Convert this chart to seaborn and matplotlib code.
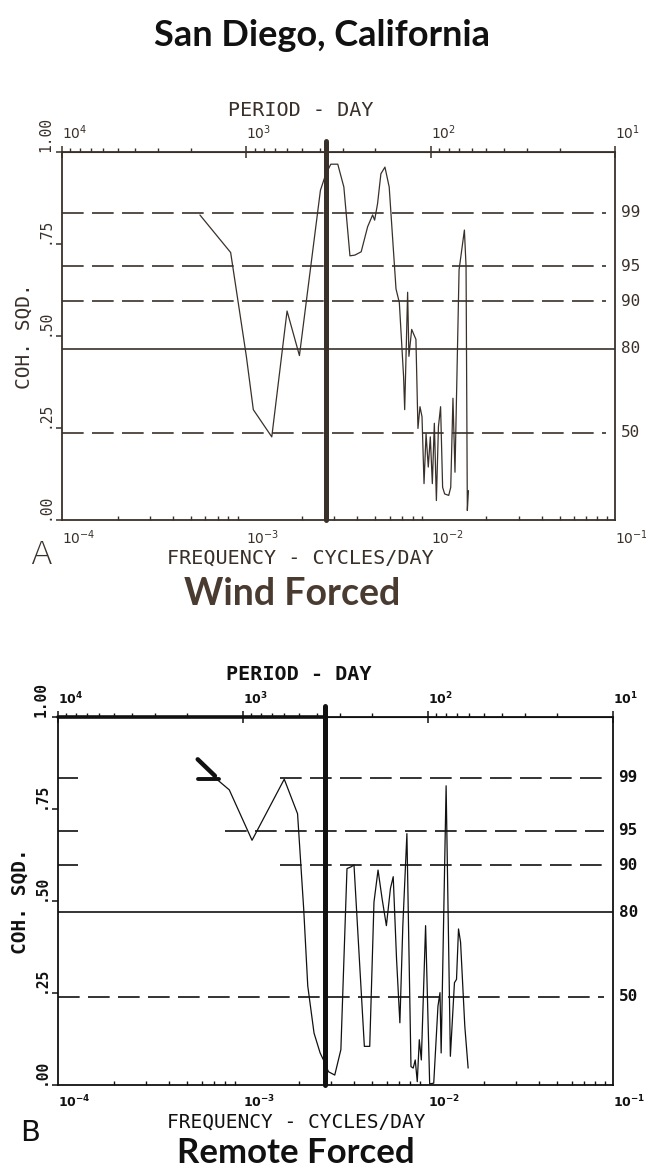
import numpy as np
import pandas as pd
import matplotlib
matplotlib.use("Agg")
import matplotlib.pyplot as plt
import matplotlib.ticker as mticker
import seaborn as sns

# Data (frequency in cycles/day, coherence squared)
wind_freq = [5.60e-4, 8.22e-4, 1.000e-3, 1.091e-3, 1.374e-3, 1.663e-3, 1.941e-3, 2.523e-3,
             2.685e-3, 2.871e-3, 3.133e-3, 3.381e-3, 3.648e-3, 3.882e-3, 4.198e-3, 4.550e-3,
             4.842e-3, 4.966e-3, 5.152e-3, 5.370e-3, 5.649e-3, 5.957e-3, 6.486e-3, 6.761e-3,
             7.129e-3, 7.228e-3, 7.499e-3, 7.621e-3, 7.889e-3, 8.318e-3, 8.531e-3, 8.750e-3,
             8.974e-3, 9.204e-3, 9.441e-3, 9.705e-3, 9.954e-3, 1.021e-2, 1.047e-2, 1.074e-2,
             1.102e-2, 1.132e-2, 1.161e-2, 1.191e-2, 1.253e-2, 1.285e-2, 1.321e-2, 1.355e-2,
             1.426e-2, 1.524e-2, 1.556e-2, 1.581e-2, 1.603e-2]
wind_coh = [0.829, 0.727, 0.445, 0.300, 0.226, 0.568, 0.447, 0.896,
            0.937, 0.967, 0.967, 0.905, 0.718, 0.720, 0.729, 0.797,
            0.829, 0.815, 0.860, 0.941, 0.959, 0.905, 0.628, 0.591,
            0.390, 0.300, 0.619, 0.445, 0.518, 0.491, 0.249, 0.308,
            0.281, 0.099, 0.235, 0.144, 0.226, 0.099, 0.263, 0.053,
            0.254, 0.308, 0.089, 0.071, 0.067, 0.089, 0.331, 0.130,
            0.680, 0.788, 0.689, 0.026, 0.080]

remote_freq = [7.05e-4, 8.43e-4, 1.119e-3, 1.671e-3, 1.972e-3, 2.128e-3, 2.239e-3, 2.421e-3,
               2.612e-3, 2.723e-3, 2.897e-3, 3.133e-3, 3.381e-3, 3.648e-3, 3.846e-3, 3.981e-3,
               4.256e-3, 4.529e-3, 4.842e-3, 5.105e-3, 5.370e-3, 5.649e-3, 5.957e-3, 6.266e-3,
               6.486e-3, 6.761e-3, 7.047e-3, 7.311e-3, 7.691e-3, 8.091e-3, 8.318e-3, 8.531e-3,
               8.750e-3, 8.974e-3, 9.204e-3, 9.705e-3, 1.021e-2, 1.074e-2, 1.132e-2, 1.161e-2,
               1.178e-2, 1.253e-2, 1.321e-2, 1.390e-2, 1.426e-2, 1.462e-2, 1.500e-2, 1.581e-2,
               1.648e-2]
remote_coh = [0.835, 0.802, 0.665, 0.831, 0.737, 0.479, 0.269, 0.141,
              0.087, 0.068, 0.036, 0.027, 0.096, 0.588, 0.593, 0.598,
              0.342, 0.105, 0.105, 0.497, 0.584, 0.506, 0.433, 0.534,
              0.566, 0.342, 0.169, 0.433, 0.683, 0.050, 0.046, 0.068,
              0.009, 0.123, 0.068, 0.433, 0.003, 0.005, 0.214, 0.251,
              0.087, 0.813, 0.078, 0.278, 0.287, 0.424, 0.388, 0.160,
              0.046]

# hand drawn check mark on panel B
mark_freq = [5.69e-4, 7.05e-4]
mark_coh = [0.885, 0.840]

# significance levels (percent) and coherence values
sig_labels = ["99", "95", "90", "80", "50"]
sig_wind = [0.835, 0.690, 0.595, 0.466, 0.237]
sig_remote = [0.835, 0.691, 0.597, 0.470, 0.240]

# vertical marker
vline_wind = 2.72e-3
vline_remote = 2.78e-3

freq_ticks = [1e-4, 1e-3, 1e-2, 1e-1]
freq_exp = ["-4", "-3", "-2", "-1"]
period_ticks = [1e4, 1e3, 1e2, 1e1]
period_exp = ["4", "3", "2", "1"]
coh_ticks = [0.0, 0.25, 0.5, 0.75, 1.0]
coh_labels = [".00", ".25", ".50", ".75", "1.00"]

sns.set_style("white")
plt.rcParams['font.family'] = ['DejaVu Sans Mono', 'DejaVu Sans']
plt.rcParams['mathtext.fontset'] = 'dejavusans'

fig = plt.figure(figsize=(6.46, 11.75), dpi=100)


def pow_labels(exps, bold):
    if bold:
        return [r"$\mathbf{10^{%s}}$" % e for e in exps]
    return [r"$10^{%s}$" % e for e in exps]


def draw_panel(ax, freq, coh, sig, vline, color, bold, gaps=None):
    weight = 'bold' if bold else 'normal'
    tick_size = 9 if bold else 10
    df = pd.DataFrame({'freq': freq, 'coh': coh})
    sns.lineplot(data=df, x='freq', y='coh', ax=ax, color=color, lw=0.9,
                 estimator=None, sort=False)
    ax.set_xscale('log')
    ax.set_xlim(1e-4, 1e-1)
    ax.set_ylim(0, 1)

    # significance lines
    for i, (lab, v) in enumerate(zip(sig_labels, sig)):
        ls = '-' if lab == "80" else (0, (13, 5))
        if gaps is not None and gaps[i] is not None:
            ax.axhline(v, xmin=0, xmax=0.036, color=color, lw=1.2, ls=ls)
            ax.axhline(v, xmin=gaps[i], xmax=0.984, color=color, lw=1.2, ls=ls)
        else:
            ax.axhline(v, xmin=0, xmax=0.984 if lab != "80" else 1.0,
                       color=color, lw=1.2, ls=ls)
        ax.text(1.01, v, lab, transform=ax.get_yaxis_transform(), ha='left',
                va='center', fontsize=11.5, color=color, fontweight=weight)

    ax.axvline(vline, ymin=0, ymax=1.03, color=color, lw=3.6, clip_on=False)

    for s in ax.spines.values():
        s.set_color(color)
        s.set_linewidth(1.3)

    ax.set_xticks(freq_ticks, pow_labels(freq_exp, bold))
    ax.xaxis.set_minor_locator(mticker.LogLocator(base=10, subs=range(2, 10)))
    ax.xaxis.set_minor_formatter(mticker.NullFormatter())
    ax.tick_params(axis='x', which='major', direction='inout', length=8, width=1.1,
                   color=color, labelsize=tick_size, pad=2, labelcolor=color)
    ax.tick_params(axis='x', which='minor', direction='in', length=3, width=1,
                   color=color, bottom=True)
    for t in ax.get_xticklabels():
        t.set_ha('left')

    ax.set_yticks(coh_ticks, coh_labels)
    ax.tick_params(axis='y', which='major', direction='out', length=4, width=1.1,
                   color=color, labelsize=10.5, pad=8, labelcolor=color, left=True)
    for t in ax.get_yticklabels():
        t.set_rotation(90)
        t.set_va('bottom')
        t.set_ha('center')
        t.set_fontweight(weight)
    ax.set_ylabel("COH. SQD.", fontsize=14, color=color, labelpad=3, fontweight=weight)
    ax.set_xlabel("")

    sec = ax.secondary_xaxis('top', functions=(lambda f: 1 / f, lambda p: 1 / p))
    sec.set_xticks(period_ticks, pow_labels(period_exp, bold))
    sec.xaxis.set_minor_locator(mticker.LogLocator(base=10, subs=range(2, 10)))
    sec.xaxis.set_minor_formatter(mticker.NullFormatter())
    sec.tick_params(axis='x', which='major', direction='inout', length=8, width=1.1,
                    color=color, labelsize=tick_size, pad=3, labelcolor=color)
    sec.tick_params(axis='x', which='minor', direction='out', length=3, width=1, color=color)
    sec.spines['top'].set_color(color)
    for t in sec.get_xticklabels():
        t.set_ha('left')
    return ax


top_color = '#3a302a'
ax1 = fig.add_axes([0.0960, 0.5574, 0.8560, 0.3132])
draw_panel(ax1, wind_freq, wind_coh, sig_wind, vline_wind, top_color, False)

ax2 = fig.add_axes([0.0898, 0.0766, 0.8591, 0.3132])
draw_panel(ax2, remote_freq, remote_coh, sig_remote, vline_remote, '#111111', True,
           gaps=[0.40, 0.30, 0.40, None, None])
# thick top border up to the vertical marker
ax2.plot([1e-4, vline_remote], [1.0, 1.0], color='#111111', lw=2.6, clip_on=False)
# hand drawn check mark
ax2.plot(mark_freq, mark_coh, color='#111111', lw=3.2, solid_capstyle='round')
ax2.plot([mark_freq[0], 7.4e-4], [0.832, 0.832], color='#111111', lw=2.8)

# figure texts
title_font = ['Lato', 'DejaVu Sans']
fig.text(0.499, 0.970, "San Diego, California", ha='center', va='center',
         fontsize=26, fontweight='bold', family=title_font, color='#111111')

fig.text(301 / 646, 0.906, "PERIOD - DAY", ha='center', va='center', fontsize=14.5,
         color=top_color)
fig.text(300 / 646, 1 - 558 / 1175, "FREQUENCY - CYCLES/DAY", ha='center', va='center',
         fontsize=14.5, color=top_color)
fig.text(41 / 646, 1 - 555 / 1175, "A", ha='center', va='center', fontsize=23,
         fontweight='light', family=['DejaVu Sans'], color=top_color)
fig.text(292 / 646, 1 - 594 / 1175, "Wind Forced", ha='center', va='center',
         fontsize=27, fontweight='bold', family=title_font, color='#4a3b30')

fig.text(299 / 646, 1 - 675 / 1175, "PERIOD - DAY", ha='center', va='center',
         fontsize=14.5, fontweight='bold', color='#111111')
fig.text(296 / 646, 1 - 1122 / 1175, "FREQUENCY - CYCLES/DAY", ha='center', va='center',
         fontsize=14, color='#111111')
fig.text(30 / 646, 1 - 1133 / 1175, "B", ha='center', va='center', fontsize=21,
         family=['DejaVu Sans'], color='#111111')
fig.text(296 / 646, 1 - 1153 / 1175, "Remote Forced", ha='center', va='center',
         fontsize=25, fontweight='bold', family=title_font, color='#111111')

fig.savefig("out.png", dpi=100)
